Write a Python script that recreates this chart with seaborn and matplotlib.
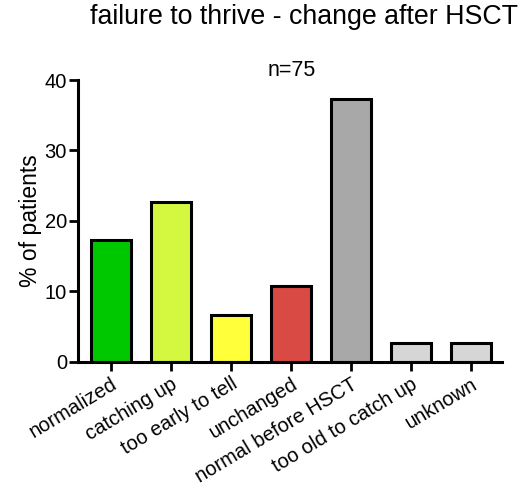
import matplotlib
matplotlib.use("Agg")
import pandas as pd
import matplotlib.pyplot as plt
import seaborn as sns

# Data (% of 75 patients)
categories = ['normalized', 'catching up', 'too early to tell', 'unchanged',
              'normal before HSCT', 'too old to catch up', 'unknown']
percent = [17.3, 22.7, 6.7, 10.7, 37.3, 2.7, 2.7]
colors = ['#00C800', '#D4F83F', '#FFFF3A', '#DA4A44', '#A8A8A8', '#D6D6D6', '#D6D6D6']
y_ticks = [0, 10, 20, 30, 40]

df = pd.DataFrame({'category': categories, 'percent': percent})

sns.set_style('ticks')
plt.rcParams['font.family'] = ['Liberation Sans', 'DejaVu Sans']
plt.rcParams['text.color'] = 'black'
plt.rcParams['axes.labelcolor'] = 'black'
plt.rcParams['xtick.color'] = 'black'
plt.rcParams['ytick.color'] = 'black'

fig = plt.figure(figsize=(5.24, 4.91), dpi=100)
ax = fig.add_axes([0.149, 0.263, 0.809, 0.574])

sns.barplot(x='category', y='percent', data=df, hue='category', palette=colors,
            saturation=1, legend=False, width=0.67, edgecolor='black',
            linewidth=2.2, ax=ax)

ax.set_ylim(0, 40)
ax.set_xlim(-0.55, 6.52)
ax.set_yticks(y_ticks)
ax.set_xlabel('')
ax.set_ylabel('% of patients', fontsize=16.5, labelpad=2)
ax.tick_params(axis='both', direction='out', length=6.5, width=2, labelsize=14.5, pad=1.5)
ax.tick_params(axis='x', labelsize=14.5, pad=2.5)
ax.set_xticks(range(len(categories)))
ax.set_xticklabels(categories, rotation=31, ha='right', rotation_mode='anchor')
for s in ['left', 'bottom']:
    ax.spines[s].set_linewidth(2.2)
    ax.spines[s].set_color('black')
sns.despine(ax=ax)

fig.text(0.58, 0.965, 'failure to thrive - change after HSCT', ha='center', va='center', fontsize=19.3)
fig.text(0.557, 0.857, 'n=75', ha='center', va='center', fontsize=15.5)

plt.savefig('out.png', dpi=100)
